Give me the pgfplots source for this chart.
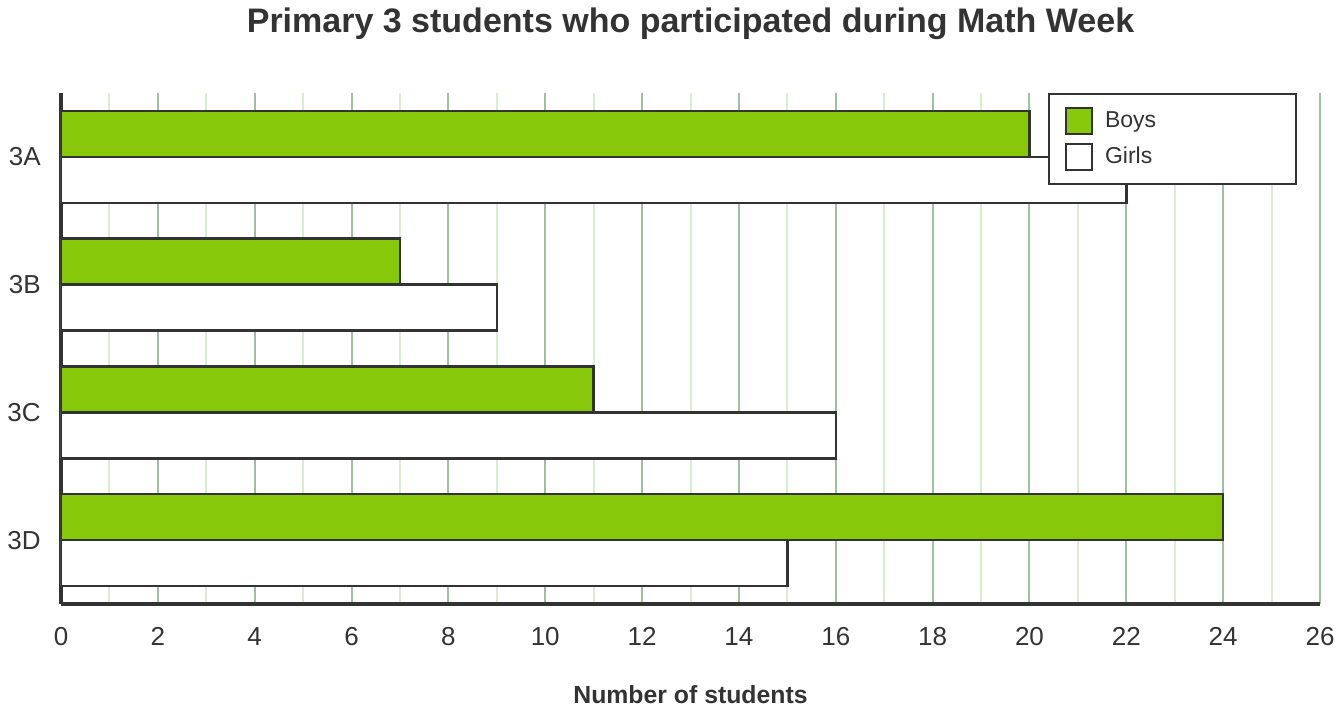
\documentclass[border=0pt]{standalone}
\usepackage{pgfplots}
\pgfplotsset{compat=1.18}
\usepackage{pgfplotstable}
\usepackage{fontspec}
\setmainfont{Liberation Sans}
\definecolor{barG}{RGB}{136,200,10}
\definecolor{dk}{RGB}{51,51,51}
\definecolor{gmaj}{RGB}{158,192,160}
\definecolor{gmin}{RGB}{220,235,212}
\pgfplotstableread{
pos boys girls
3 20 22
2 7 9
1 11 16
0 24 15
}\datatab
\begin{document}
\begin{tikzpicture}
\path[use as bounding box] (-30.5pt,-54.5pt) rectangle (641.5pt,302pt);
\begin{axis}[
  at={(0,0)}, anchor=south west,
  scale only axis,
  width=629.5pt, height=255.5pt,
  xmin=0, xmax=26, ymin=-0.5, ymax=3.5,
  axis x line=bottom, axis y line=left,
  axis line style={-, draw=dk, line width=2pt},
  xtick={0,2,...,26},
  minor xtick={1,3,...,25},
  ytick={0,1,2,3},
  yticklabels={3D,3C,3B,3A},
  major tick length=0pt, minor tick length=0pt,
  xmajorgrids, xminorgrids,
  major grid style={draw=gmaj, line width=1pt},
  minor grid style={draw=gmin, line width=1pt},
  /pgf/number format/assume math mode=true,
  tick label style={font=\fontsize{13}{15}\selectfont, text=dk, inner sep=0pt},
  xticklabel style={yshift=-11.5pt},
  yticklabel style={xshift=-10pt},
  title={Primary 3 students who participated during Math Week},
  title style={at={(0.5,1)}, anchor=base, yshift=24.5pt, font=\fontsize{17}{20}\selectfont\bfseries, text=dk},
  xlabel={Number of students},
  xlabel style={at={(0.5,0)}, anchor=base, yshift=-49.5pt, font=\fontsize{12.4}{14}\selectfont\bfseries, text=dk},
  xbar, bar width=23pt,
  legend style={at={(0.98173,1)}, anchor=north east, draw=dk, line width=1pt,
    inner xsep=8pt, inner ysep=6.5pt, row sep=4pt, column sep=6pt,
    font=\fontsize{11.5}{14}\selectfont, text=dk,
    nodes={inner sep=0pt}},
  legend cell align=left,
  legend image code/.code={\draw[#1, line width=1pt] (0.5pt,-6.5pt) rectangle (13.5pt,6.5pt);},
]
\addplot[fill=barG, draw=dk, line width=1.2pt, bar shift=11.5pt] table[x=boys, y=pos] {\datatab};
\addlegendentry{\makebox[87.5pt][l]{Boys}}
\addplot[fill=white, draw=dk, line width=1.2pt, bar shift=-11.5pt] table[x=girls, y=pos] {\datatab};
\addlegendentry{\makebox[87.5pt][l]{Girls}}
\end{axis}
\end{tikzpicture}
\end{document}
